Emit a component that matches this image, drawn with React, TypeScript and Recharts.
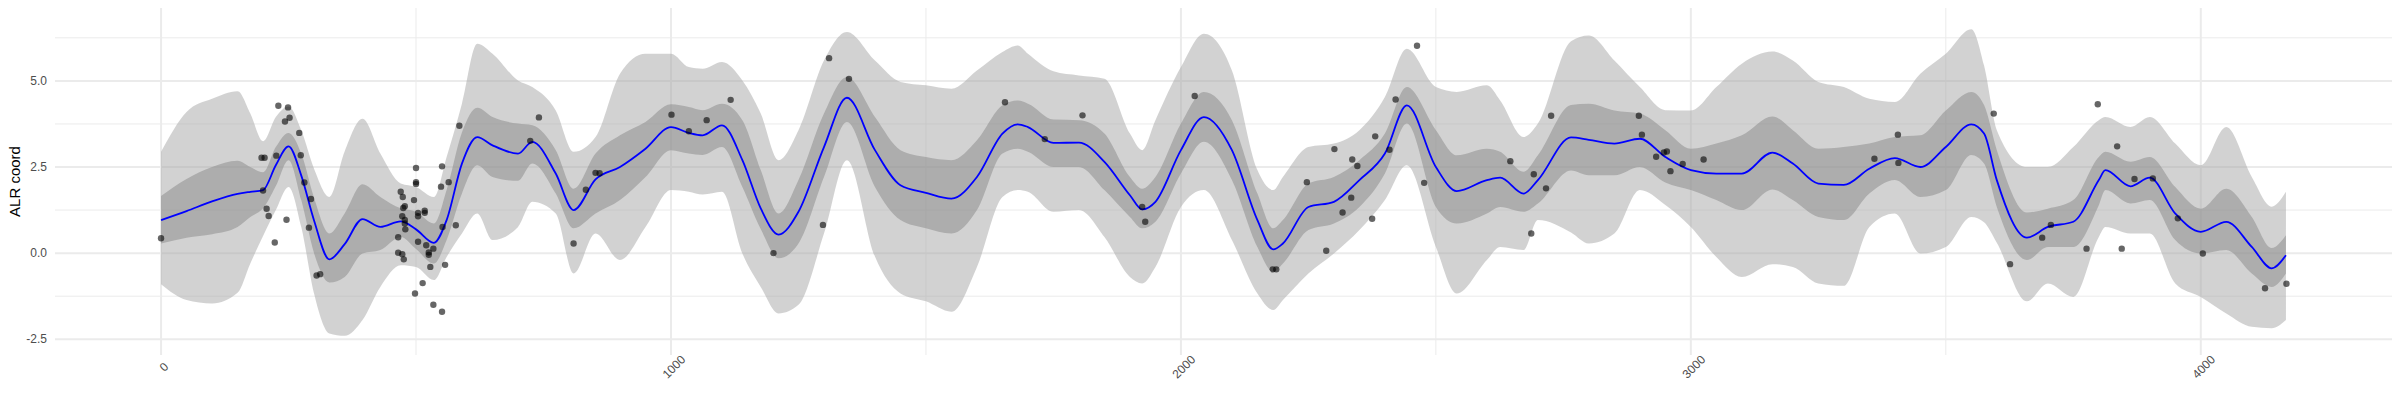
import React from 'react';
import {
  ComposedChart,
  Area,
  Line,
  Scatter,
  XAxis,
  YAxis,
  CartesianGrid,
} from 'recharts';

// posterior curve
const CURVE_X = [
  0, 50, 100, 150, 175, 200, 225, 250, 275, 300, 330, 360, 395, 430, 470, 500, 535, 560, 590, 620,
  650, 700, 728, 774, 809, 852, 900, 950, 1000, 1035, 1062, 1100, 1140, 1176, 1211, 1250, 1300, 1345,
  1400, 1450, 1500, 1550, 1600, 1650, 1680, 1700, 1750, 1800, 1850, 1900, 1924, 1950, 2000, 2045,
  2100, 2150, 2181, 2200, 2250, 2300, 2350, 2400, 2443, 2500, 2541, 2600, 2626, 2672, 2700, 2765,
  2800, 2850, 2900, 2950, 3000, 3050, 3100, 3160, 3200, 3250, 3300, 3350, 3400, 3450, 3500, 3550,
  3575, 3600, 3659, 3700, 3750, 3800, 3813, 3862, 3900, 3950, 4000, 4050, 4100, 4139, 4167,
];
const MEAN = [
  0.96, 1.22, 1.5, 1.72, 1.78, 1.83, 2.55, 3.1, 2.25, 0.95, -0.18, 0.26, 0.99, 0.76, 0.92, 0.69, 0.3, 0.96, 2.6, 3.37,
  3.13, 2.89, 3.23, 2.31, 1.25, 2.14, 2.5, 3.03, 3.66, 3.49, 3.42, 3.71, 2.7, 1.3, 0.54, 1.2, 3.08, 4.51,
  2.99, 1.97, 1.75, 1.58, 2.21, 3.47, 3.74, 3.66, 3.2, 3.21, 2.65, 1.68, 1.27, 1.49, 2.99, 3.95,
  2.99, 0.96, 0.11, 0.28, 1.34, 1.49, 2.12, 2.89, 4.29, 2.5, 1.8, 2.12, 2.19, 1.73, 2.12, 3.36,
  3.29, 3.18, 3.32, 2.79, 2.41, 2.31, 2.31, 2.92, 2.6, 2.02, 1.98, 2.45, 2.76, 2.5, 3.08, 3.74,
  3.47, 2.12, 0.45, 0.76, 0.91, 2.12, 2.41, 1.94, 2.19, 1.15, 0.62, 0.91, 0.18, -0.44, -0.06,
];
const INNER_LO = [
  0.28, 0.45, 0.55, 0.76, 1.05, 1.3, 1.95, 2.7, 1.54, 0.0, -0.85, -0.69, -0.01, 0.09, 0.47, 0.12, -0.3, 0.38, 1.73, 2.55,
  2.21, 2.1, 2.6, 1.73, 0.72, 1.15, 1.54, 2.21, 2.99, 2.89, 2.85, 3.08, 1.92, 0.7, -0.15, 0.28, 2.21, 3.81,
  1.92, 0.96, 0.72, 0.57, 1.25, 2.89, 3.03, 2.94, 2.5, 2.5, 1.83, 1.05, 0.72, 0.91, 2.31, 3.23,
  2.12, 0.18, -0.54, -0.3, 0.67, 0.86, 1.34, 2.31, 3.76, 1.34, 0.86, 1.15, 1.34, 1.2, 1.44, 2.4,
  2.26, 2.26, 2.5, 2.05, 1.83, 1.54, 1.25, 1.85, 1.54, 1.05, 0.96, 1.73, 2.12, 1.63, 1.83, 2.85,
  2.6, 1.34, -0.2, 0.18, 0.18, 1.39, 1.83, 1.44, 1.54, 0.38, -0.01, 0.09, -0.59, -0.98, -0.59,
];
const INNER_HI = [
  1.66, 2.15, 2.5, 2.68, 2.5, 2.35, 3.08, 3.49, 2.89, 1.6, 0.57, 1.15, 2.0, 1.63, 1.3, 1.2, 0.86, 1.83, 3.5, 4.22,
  3.95, 3.76, 3.71, 2.99, 1.87, 2.89, 3.42, 3.81, 4.32, 4.24, 4.15, 4.34, 3.86, 2.41, 1.15, 2.12, 4.05, 5.11,
  3.95, 2.99, 2.79, 2.7, 3.28, 4.29, 4.43, 4.34, 3.88, 3.86, 3.47, 2.21, 1.87, 2.21, 3.76, 4.68,
  3.86, 1.73, 0.72, 0.96, 2.02, 2.21, 2.7, 3.47, 4.82, 3.57, 2.84, 3.03, 2.94, 2.36, 2.84, 4.3,
  4.34, 4.14, 4.05, 3.57, 3.03, 3.18, 3.42, 3.97, 3.57, 3.03, 3.08, 3.18, 3.37, 3.42, 4.14, 4.68,
  4.3, 2.99, 1.18, 1.29, 1.54, 2.79, 2.94, 2.65, 2.79, 1.92, 1.29, 1.87, 1.05, 0.15, 0.52,
];
const OUTER_LO = [
  -0.9, -1.36, -1.46, -1.15, -0.3, 0.5, 1.25, 1.92, 0.76, -1.17, -2.33, -2.4, -1.94, -0.98, -0.35, -0.4, -0.78, -0.11, 0.57, 1.15,
  0.38, 0.76, 1.49, 1.15, -0.59, 0.57, -0.2, 0.76, 1.83, 1.78, 1.7, 1.78, -0.01, -0.98, -1.75, -1.5, 0.57, 2.7,
  -0.1, -1.17, -1.4, -1.7, -0.4, 1.63, 1.83, 1.78, 1.2, 1.25, 0.47, -0.69, -0.88, -0.4, 1.34, 1.83,
  0.38, -1.17, -1.65, -1.36, -0.59, -0.01, 0.67, 1.54, 2.55, 0.18, -1.17, -0.2, 0.18, 0.09, 0.96, 0.6,
  0.28, 0.57, 1.83, 1.4, 0.76, -0.11, -0.69, -0.32, -0.4, -0.88, -0.95, 0.76, 1.15, -0.01, 0.18, 1.05,
  0.9, 0.3, -1.4, -0.88, -1.27, 0.47, 0.76, 0.57, 0.57, -0.88, -1.27, -1.75, -2.14, -2.18, -1.94,
];
const OUTER_HI = [
  2.94, 4.1, 4.48, 4.7, 4.05, 3.25, 3.95, 4.26, 3.57, 2.45, 1.63, 2.95, 3.9, 2.89, 2.02, 1.92, 1.63, 2.79, 4.34, 6.08,
  5.79, 5.01, 4.82, 4.14, 2.94, 3.37, 5.21, 5.79, 5.79, 5.4, 5.35, 5.55, 5.01, 4.05, 2.7, 3.57, 5.59, 6.42,
  5.59, 4.97, 4.87, 4.77, 5.3, 5.84, 6.03, 5.79, 5.28, 5.16, 5.06, 3.47, 2.99, 3.86, 5.4, 6.37,
  5.3, 2.41, 1.83, 2.21, 3.08, 3.18, 3.57, 4.53, 5.93, 4.82, 4.68, 4.87, 4.43, 3.37, 3.76, 6.15,
  6.32, 5.59, 4.82, 4.15, 4.14, 4.82, 5.5, 5.85, 5.59, 4.97, 4.82, 4.48, 4.39, 5.21, 5.79, 6.5,
  5.45, 3.57, 2.5, 2.5, 3.08, 3.86, 3.95, 3.66, 3.95, 3.18, 2.55, 3.66, 2.21, 1.35, 1.78,
];

// observations
const POINT_X = [
  0, 197, 203, 200, 230, 249, 243, 252, 226, 207, 211, 223, 246, 271, 274, 281, 294, 290, 305, 312,
  470, 474, 496, 500, 500, 500, 475, 478, 473, 478, 478, 479, 465, 465, 473, 476, 504, 504, 517, 517,
  504, 520, 525, 525, 534, 528, 498, 513, 534, 551, 551, 549, 564, 552, 557, 578, 585,
  724, 741, 809, 833, 852, 860, 1001, 1035, 1070, 1117, 1201, 1298, 1310, 1349, 1655, 1733,
  1807, 1924, 1930, 2027, 2180, 2187, 2247, 2285, 2301, 2317, 2334, 2336, 2346,
  2381, 2375, 2409, 2421, 2463, 2477, 2646, 2692, 2687, 2716, 2726, 2898, 2904, 2932, 2947, 2953, 2960,
  2984, 3025, 3360, 3406, 3407,
  3594, 3626, 3689, 3706, 3776, 3798, 3836, 3845, 3870, 3906, 3955, 4004, 4126, 4168,
];
const POINT_Y = [
  0.43, 2.77, 2.77, 1.82, 4.28, 4.23, 3.82, 3.93, 2.83, 1.29, 1.08, 0.31, 0.97, 3.49, 2.84, 2.05, 1.57, 0.74, -0.65, -0.61,
  1.78, 1.63, 1.54, 2.47, 2.06, 2.01, 1.31, 1.36, 1.07, 0.96, 0.86, 0.69, 0.46, 0.01, -0.03, -0.18, 1.17, 1.07, 1.23, 1.17,
  0.33, 0.23, 0.02, -0.05, 0.13, -0.4, -1.17, -0.87, -1.5, -1.7, 2.52, 1.93, 2.06, 0.76, -0.34, 0.81, 3.7,
  3.26, 3.94, 0.28, 1.84, 2.33, 2.32, 4.02, 3.54, 3.86, 4.45, 0.0, 0.82, 5.66, 5.06, 4.38, 3.31,
  4.0, 1.34, 0.91, 4.56, -0.47, -0.47, 2.06, 0.07, 3.02, 1.18, 1.61, 2.72, 2.53,
  3.39, 1.0, 3.0, 4.46, 6.02, 2.04, 2.67, 2.29, 0.57, 1.88, 3.99, 3.99, 3.44, 2.8, 2.92, 2.95, 2.38,
  2.59, 2.72, 2.74, 3.44, 2.62,
  4.05, -0.32, 0.45, 0.82, 0.13, 4.32, 3.1, 0.13, 2.15, 2.17, 1.01, -0.01, -1.02, -0.89,
];

const X_TICKS = [0, 1000, 2000, 3000, 4000];
const X_MINOR = [500, 1500, 2500, 3500];
const Y_TICKS = [-2.5, 0, 2.5, 5];
const Y_MINOR = [-1.25, 1.25, 3.75, 6.25];

const curveData = CURVE_X.map((x, i) => ({
  x,
  mean: MEAN[i],
  inner: [INNER_LO[i], INNER_HI[i]],
  outer: [OUTER_LO[i], OUTER_HI[i]],
}));
const pointData = POINT_X.map((x, i) => ({ x, y: POINT_Y[i] }));

const FONT = '"Liberation Sans", Arial, sans-serif';

function XTick({ x, y, payload }: any) {
  return (
    <text
      transform={`translate(${x + 3},${y + 4}) rotate(-45)`}
      textAnchor="middle"
      dominantBaseline="central"
      fontSize={12}
      fontFamily={FONT}
      fill="#4d4d4d"
    >
      {payload.value}
    </text>
  );
}

function YTick({ x, y, payload }: any) {
  return (
    <text x={x} y={y} dy="0.35em" textAnchor="end" fontSize={12} fontFamily={FONT} fill="#4d4d4d">
      {payload.value.toFixed(1)}
    </text>
  );
}

function YTitle({ viewBox }: any) {
  const cx = viewBox.x + 14;
  const cy = viewBox.y + viewBox.height / 2;
  return (
    <text
      transform={`translate(${cx},${cy}) rotate(-90)`}
      textAnchor="middle"
      dominantBaseline="central"
      fontSize={15}
      fontWeight={400}
      fontFamily={FONT}
      fill="#000"
    >
      ALR coord
    </text>
  );
}

const dot = (props: any) => (
  <circle cx={props.cx} cy={props.cy} r={3.2} fill="#000" fillOpacity={0.6} />
);

export default function App() {
  return (
    <div style={{ position: 'absolute', left: 0, top: 0, width: 2400, height: 400, background: '#fff' }}>
      <ComposedChart width={2400} height={400} margin={{ top: 8, right: 8, bottom: 0, left: 0 }}>
        <CartesianGrid
          stroke="#ebebeb"
          strokeWidth={1}
          horizontalValues={Y_MINOR}
          verticalValues={X_MINOR}
        />
        <CartesianGrid
          stroke="#ebebeb"
          strokeWidth={2}
          horizontalValues={Y_TICKS}
          verticalValues={X_TICKS}
        />
        <XAxis
          type="number"
          dataKey="x"
          domain={[-208, 4375]}
          ticks={X_TICKS}
          interval={0}
          allowDataOverflow
          axisLine={false}
          tickLine={false}
          height={45}
          tick={<XTick />}
        />
        <YAxis
          type="number"
          domain={[-2.957, 7.116]}
          ticks={Y_TICKS}
          interval={0}
          allowDataOverflow
          axisLine={false}
          tickLine={false}
          width={55}
          tick={<YTick />}
          label={<YTitle />}
        />
        <Area
          data={curveData}
          dataKey="outer"
          type="monotone"
          stroke="none"
          fill="#a6a6a6"
          fillOpacity={0.5}
          dot={false}
          activeDot={false}
          isAnimationActive={false}
        />
        <Area
          data={curveData}
          dataKey="inner"
          type="monotone"
          stroke="none"
          fill="#878787"
          fillOpacity={0.5}
          dot={false}
          activeDot={false}
          isAnimationActive={false}
        />
        <Line
          data={curveData}
          dataKey="mean"
          type="monotone"
          stroke="#0000ff"
          strokeWidth={1.8}
          dot={false}
          activeDot={false}
          isAnimationActive={false}
        />
        <Scatter data={pointData} dataKey="y" shape={dot} isAnimationActive={false} />
      </ComposedChart>
    </div>
  );
}
